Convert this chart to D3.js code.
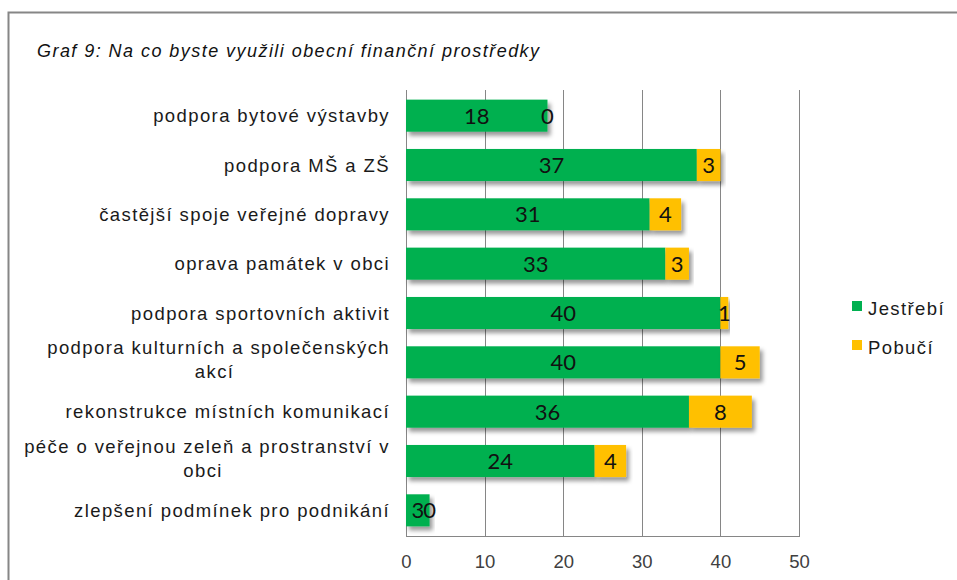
<!DOCTYPE html>
<html>
<head>
<meta charset="utf-8">
<script src="https://cdn.jsdelivr.net/npm/d3@7"></script>
<style>
  html, body { margin: 0; padding: 0; background: #fff; }
  svg { display: block; }
</style>
</head>
<body>
<div id="chart"></div>
<script>
const title = "Graf 9: Na co byste využili obecní finanční prostředky";
const categories = [
  ["podpora bytové výstavby"],
  ["podpora MŠ a ZŠ"],
  ["častější spoje veřejné dopravy"],
  ["oprava památek v obci"],
  ["podpora sportovních aktivit"],
  ["podpora kulturních a společenských", "akcí"],
  ["rekonstrukce místních komunikací"],
  ["péče o veřejnou zeleň a prostranství v", "obci"],
  ["zlepšení podmínek pro podnikání"]
];
const seriesNames = ["Jestřebí", "Pobučí"];
const jestrebi = [18, 37, 31, 33, 40, 40, 36, 24, 3];
const pobuci   = [0, 3, 4, 3, 1, 5, 8, 4, 0];
const xTicks = [0, 10, 20, 30, 40, 50];
const colors = ["#00B050", "#FFC000"];

const W = 957, H = 580;
const svg = d3.select("#chart").append("svg").attr("width", W).attr("height", H);

const defs = svg.append("defs");
const f = defs.append("filter").attr("id", "shadow")
  .attr("x", "-10%").attr("y", "-30%").attr("width", "130%").attr("height", "170%");
f.append("feDropShadow").attr("dx", 3).attr("dy", 4).attr("stdDeviation", 2)
  .attr("flood-color", "#000").attr("flood-opacity", 0.4);

// outer frame
svg.append("rect").attr("x", 8.5).attr("y", 12.5).attr("width", 980).attr("height", 620)
  .attr("fill", "#fff").attr("stroke", "#868686").attr("stroke-width", 2);

// title
svg.append("text").attr("x", 37).attr("y", 57)
  .attr("font-family", "Liberation Sans, Arial, sans-serif")
  .attr("font-style", "italic").attr("font-size", 18).attr("letter-spacing", 1.45)
  .attr("fill", "#111").text(title);

const x = d3.scaleLinear().domain([0, 50]).range([406, 799]);
const y = d3.scaleBand().domain(d3.range(categories.length)).range([91, 535]).paddingInner(0.35).paddingOuter(0.175);

const g = svg.append("g");

// gridlines
g.selectAll("line.grid").data(xTicks).join("line")
  .attr("x1", d => Math.round(x(d)) + 0.5).attr("x2", d => Math.round(x(d)) + 0.5)
  .attr("y1", 90).attr("y2", 536)
  .attr("stroke", "#868686").attr("stroke-width", 1);
// bottom axis line
g.append("line").attr("x1", x(0)).attr("x2", Math.round(x(50)) + 1).attr("y1", 536.5).attr("y2", 536.5)
  .attr("stroke", "#868686");

// x axis labels
const xAxis = d3.axisBottom(x).tickValues(xTicks).tickSize(0).tickPadding(0);
const ax = svg.append("g").attr("transform", "translate(0,555)").call(xAxis);
ax.select(".domain").remove();
ax.selectAll("text").attr("font-family", "Liberation Sans, Arial, sans-serif")
  .attr("font-size", 18.5).attr("fill", "#404040").attr("dy", "0.71em");

// stacked data
const stackData = categories.map((c, i) => ({ i, a: jestrebi[i], b: pobuci[i] }));
const stack = d3.stack().keys(["a", "b"])(stackData);

const layers = g.selectAll("g.layer").data(stack).join("g").attr("class", "layer")
  .attr("fill", (d, k) => colors[k]);
layers.selectAll("rect").data(d => d).join("rect")
  .attr("x", d => x(d[0])).attr("width", d => x(d[1]) - x(d[0]))
  .attr("y", d => y(d.data.i)).attr("height", y.bandwidth())
  .attr("filter", "url(#shadow)");

// value labels
const lbl = svg.append("g").attr("font-family", "Lato, 'Open Sans', sans-serif")
  .attr("font-size", 22).attr("fill", "#111").attr("text-anchor", "middle");
stack.forEach((layer, k) => {
  lbl.selectAll("text.v" + k).data(layer).join("text").attr("class", "v" + k)
    .attr("x", d => x((d[0] + d[1]) / 2))
    .attr("y", d => y(d.data.i) + y.bandwidth() / 2 + 8)
    .text(d => d[1] - d[0]);
});

// category labels
const cl = svg.append("g").attr("font-family", "Liberation Sans, Arial, sans-serif")
  .attr("font-size", 18.5).attr("letter-spacing", 1.4).attr("fill", "#1a1a1a");
categories.forEach((lines, i) => {
  const cy = y(i) + y.bandwidth() / 2;
  if (lines.length === 1) {
    cl.append("text").attr("x", 390).attr("y", cy + 6.5).attr("text-anchor", "end").text(lines[0]);
  } else {
    const t1 = cl.append("text").attr("x", 390).attr("y", cy - 8).attr("text-anchor", "end").text(lines[0]);
    const w = t1.node().getComputedTextLength();
    cl.append("text").attr("x", 386 - w / 2).attr("y", cy + 16).attr("text-anchor", "middle").text(lines[1]);
  }
});

// legend
const lg = svg.append("g").attr("font-family", "Liberation Sans, Arial, sans-serif")
  .attr("font-size", 18.5).attr("letter-spacing", 1.4).attr("fill", "#1a1a1a");
seriesNames.forEach((n, k) => {
  lg.append("rect").attr("x", 852).attr("y", 301 + k * 39).attr("width", 10).attr("height", 10).attr("fill", colors[k]);
  lg.append("text").attr("x", 868).attr("y", 315 + k * 39).text(n);
});
</script>
</body>
</html>
